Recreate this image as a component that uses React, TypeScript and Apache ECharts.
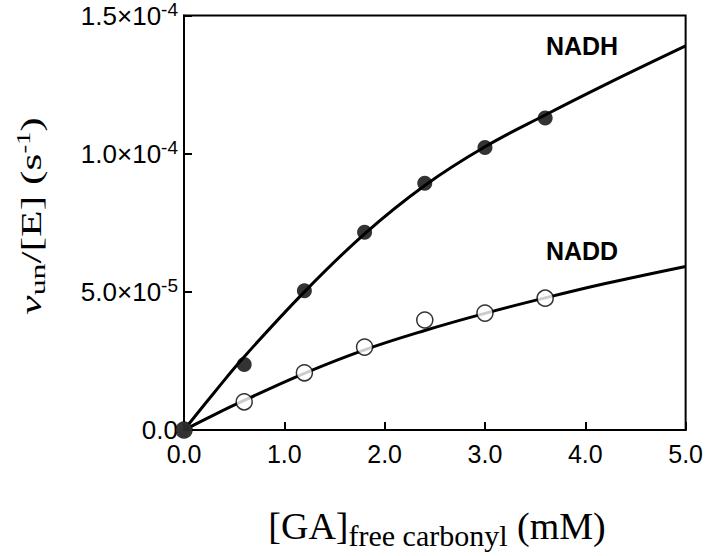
import React, { useEffect, useRef } from 'react';
import * as echarts from 'echarts';

// ---- data ----
const xTickLabels = ['0.0', '1.0', '2.0', '3.0', '4.0', '5.0'];
const yTickLabels = ['{m|0.0}', '{m|5.0×10}{s|-5}', '{m|1.0×10}{s|-4}', '{m|1.5×10}{s|-4}'];

const pointX = [0, 0.6, 1.2, 1.8, 2.4, 3.0, 3.6];
const nadhPoints = [0, 2.37e-5, 5.04e-5, 7.16e-5, 8.93e-5, 10.22e-5, 11.29e-5];
const naddPoints = [0, 1.02e-5, 2.07e-5, 3.0e-5, 3.98e-5, 4.23e-5, 4.77e-5];

const curveX = [0, 0.3, 0.6, 1.2, 1.8, 2.4, 3.0, 3.6, 4.2, 5.0];
const nadhCurve = [0, 1.35e-5, 2.65e-5, 5.0e-5, 7.1e-5, 8.85e-5, 10.25e-5, 11.4e-5, 12.5e-5, 13.9e-5];
const naddCurve = [0, 0.55e-5, 1.07e-5, 2.05e-5, 2.9e-5, 3.6e-5, 4.22e-5, 4.78e-5, 5.3e-5, 5.92e-5];

const seriesLabels = ['NADH', 'NADD'];

const SANS = "'Liberation Sans', Arial, sans-serif";
const SERIF = "'Liberation Serif', 'Times New Roman', serif";

export default function App() {
  const ref = useRef<HTMLDivElement>(null);
  useEffect(() => {
    if (!ref.current) return;
    const chart = echarts.init(ref.current, undefined, { renderer: 'svg' });
    const zip = (xs: number[], ys: number[]) => xs.map((x, i) => [x, ys[i]]);
    chart.setOption({
      animation: false,
      backgroundColor: '#fff',
      grid: {
        left: 184, right: 19, top: 13, bottom: 126,
        show: true, borderColor: '#000', borderWidth: 2, backgroundColor: 'transparent',
      },
      xAxis: {
        type: 'value', min: 0, max: 5, interval: 1,
        axisLine: { show: true, lineStyle: { color: '#000', width: 2 } },
        axisTick: { show: true, inside: true, length: 8, lineStyle: { color: '#000', width: 2 } },
        splitLine: { show: false },
        axisLabel: {
          color: '#000', fontSize: 25, fontFamily: SANS, margin: 11,
          formatter: (_v: number, i: number) => xTickLabels[i],
        },
      },
      yAxis: {
        type: 'value', min: 0, max: 1.5e-4, interval: 5e-5,
        axisLine: { show: true, lineStyle: { color: '#000', width: 2 } },
        axisTick: { show: true, inside: true, length: 8, lineStyle: { color: '#000', width: 2 } },
        splitLine: { show: false },
        axisLabel: {
          color: '#000', margin: 6,
          formatter: (_v: number, i: number) => yTickLabels[i],
          rich: {
            m: { fontSize: 26, fontFamily: SANS, color: '#000' },
            s: { fontSize: 19, fontFamily: SANS, color: '#000', padding: [0, 0, 12, 0] },
          },
        },
      },
      graphic: [
        {
          type: 'text', x: 582, y: 46,
          style: { text: seriesLabels[0], font: `bold 25px ${SANS}`, fill: '#000', align: 'center', verticalAlign: 'middle' },
        },
        {
          type: 'text', x: 582, y: 251,
          style: { text: seriesLabels[1], font: `bold 25px ${SANS}`, fill: '#000', align: 'center', verticalAlign: 'middle' },
        },
        {
          type: 'text', x: 31, y: 216, rotation: Math.PI / 2, scaleX: 1.45, scaleY: 1,
          style: {
            text: '{nu|ν}{sub|un}{m|/[E] (s}{sup|-1}{m|)}',
            align: 'center', verticalAlign: 'middle', fill: '#000',
            rich: {
              nu: { fontSize: 30, fontFamily: SERIF, fontStyle: 'italic', fill: '#000' },
              m: { fontSize: 30, fontFamily: SERIF, fill: '#000' },
              sub: { fontSize: 22, fontFamily: SERIF, fill: '#000', padding: [14, 0, 0, 0] },
              sup: { fontSize: 18, fontFamily: SERIF, fill: '#000', padding: [0, 0, 14, 0] },
            },
          },
        },
        {
          type: 'text', x: 437, y: 526,
          style: {
            text: '{m|[GA]}{sub|free carbonyl}{m| (mM)}',
            align: 'center', verticalAlign: 'middle', fill: '#000',
            rich: {
              m: { fontSize: 38, fontFamily: SERIF, fill: '#000' },
              sub: { fontSize: 30, fontFamily: SERIF, fill: '#000', padding: [18, 0, 0, 0] },
            },
          },
        },
      ],
      series: [
        {
          type: 'line', data: zip(curveX, naddCurve), smooth: 0.4, showSymbol: false,
          lineStyle: { color: '#000', width: 3 }, z: 2,
        },
        {
          type: 'line', data: zip(curveX, nadhCurve), smooth: 0.4, showSymbol: false,
          lineStyle: { color: '#000', width: 3 }, z: 2,
        },
        {
          type: 'scatter', data: zip(pointX, naddPoints), symbol: 'circle', symbolSize: 16, clip: false,
          itemStyle: { color: '#fff', borderColor: '#000', borderWidth: 1.5 }, z: 3,
        },
        {
          type: 'scatter', data: zip(pointX, nadhPoints), symbol: 'circle', symbolSize: 15, clip: false,
          itemStyle: { color: '#000', borderColor: '#000', borderWidth: 0 }, z: 4,
        },
      ],
    });
    return () => chart.dispose();
  }, []);
  return <div ref={ref} style={{ position: 'fixed', left: 0, top: 0, width: 706, height: 556 }} />;
}
